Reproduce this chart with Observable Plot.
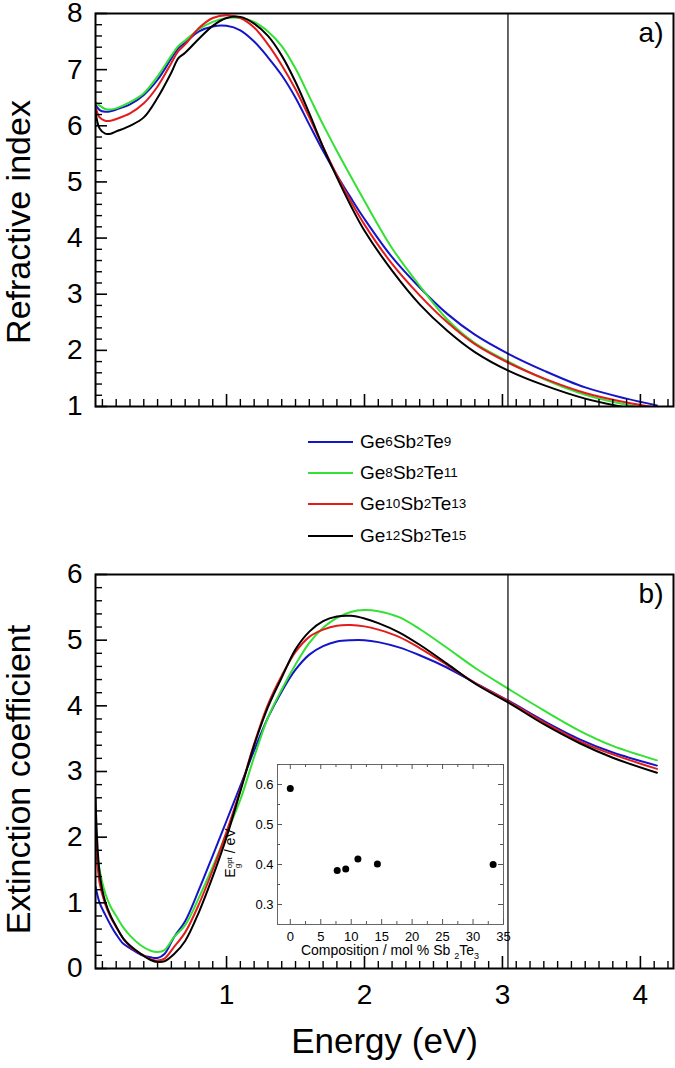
<!DOCTYPE html>
<html><head><meta charset="utf-8">
<script src="https://cdn.jsdelivr.net/npm/d3@7"></script>
<script src="https://cdn.jsdelivr.net/npm/@observablehq/plot@0.6"></script>
<style>
html,body{margin:0;padding:0;background:#fff;}
#wrap{position:relative;width:675px;height:1068px;font-family:"Liberation Sans",Arial,sans-serif;overflow:hidden;background:#fff;}
#wrap svg{overflow:visible;}
.legend{position:absolute;left:308px;top:426px;font-size:19px;color:#000;}
.legend .row{display:flex;align-items:center;height:31.3px;white-space:nowrap;}
.legend .sw{width:45px;height:2px;margin-right:7px;}
.legend sub{font-size:13.5px;vertical-align:-7px;line-height:0;}
.ilab{position:absolute;font-size:14px;color:#000;white-space:nowrap;}
.ilab sub{font-size:9px;vertical-align:-4px;line-height:0;}
</style></head>
<body><div id="wrap"></div>
<script>
// ---------- data ----------
const seriesNames = ["Ge6Sb2Te9", "Ge8Sb2Te11", "Ge10Sb2Te13", "Ge12Sb2Te15"];
const geIndex = [6, 8, 10, 12];
const teIndex = [9, 11, 13, 15];
const seriesColors = ["#1515c8", "#33e033", "#e41b1b", "#000000"];

const energyN = [0.05,0.08,0.12,0.16,0.2,0.3,0.4,0.5,0.6,0.65,0.7,0.8,0.9,1.0,1.1,1.2,1.3,1.4,1.5,1.6,1.7,1.8,1.9,2.0,2.2,2.4,2.6,2.8,3.05,3.3,3.6,3.9,4.12];
const nGe6  = [6.38,6.28,6.25,6.26,6.29,6.38,6.55,6.82,7.20,7.38,7.48,7.68,7.77,7.78,7.70,7.50,7.22,6.90,6.50,6.02,5.55,5.12,4.72,4.34,3.66,3.12,2.65,2.28,1.93,1.64,1.34,1.14,1.02];
const nGe8  = [6.42,6.36,6.30,6.29,6.31,6.42,6.58,6.88,7.25,7.42,7.52,7.72,7.85,7.92,7.92,7.85,7.68,7.42,7.02,6.52,6.02,5.55,5.10,4.66,3.82,3.15,2.55,2.13,1.79,1.49,1.21,1.03,0.93];
const nGe10 = [6.34,6.15,6.09,6.09,6.12,6.22,6.40,6.70,7.12,7.33,7.45,7.74,7.92,7.97,7.92,7.75,7.45,7.08,6.65,6.15,5.62,5.12,4.66,4.24,3.54,2.98,2.50,2.11,1.77,1.50,1.24,1.07,0.98];
const nGe12 = [6.25,5.95,5.86,5.86,5.90,6.00,6.15,6.50,6.95,7.20,7.30,7.55,7.78,7.92,7.94,7.82,7.60,7.25,6.78,6.22,5.62,5.08,4.58,4.13,3.42,2.82,2.35,1.97,1.63,1.38,1.14,0.98,0.89];

const energyK = [0.05,0.08,0.12,0.16,0.2,0.25,0.3,0.38,0.45,0.5,0.55,0.62,0.7,0.8,0.9,1.0,1.1,1.2,1.3,1.4,1.5,1.6,1.7,1.8,1.9,2.0,2.1,2.25,2.4,2.6,2.8,3.05,3.3,3.56,3.8,4.12];
const kGe6  = [1.25,1.00,0.82,0.66,0.52,0.38,0.31,0.21,0.17,0.16,0.22,0.48,0.72,1.20,1.72,2.25,2.78,3.32,3.82,4.22,4.55,4.78,4.91,4.98,5.00,5.00,4.97,4.89,4.77,4.58,4.35,4.07,3.77,3.49,3.29,3.09];
const kGe8  = [1.95,1.50,1.15,0.94,0.80,0.63,0.50,0.35,0.27,0.25,0.28,0.48,0.66,1.08,1.55,2.06,2.57,3.22,3.82,4.25,4.63,4.96,5.19,5.34,5.43,5.46,5.44,5.35,5.17,4.88,4.58,4.25,3.93,3.62,3.39,3.17];
const kGe10 = [2.00,1.30,0.98,0.78,0.63,0.46,0.34,0.22,0.14,0.12,0.15,0.33,0.55,0.98,1.50,2.08,2.72,3.42,4.02,4.46,4.82,5.05,5.16,5.22,5.23,5.21,5.16,5.05,4.88,4.62,4.35,4.06,3.75,3.46,3.26,3.04];
const kGe12 = [2.60,1.45,1.02,0.80,0.64,0.46,0.35,0.22,0.13,0.10,0.11,0.22,0.42,0.86,1.40,2.00,2.70,3.40,3.98,4.43,4.86,5.13,5.29,5.36,5.37,5.33,5.26,5.12,4.93,4.64,4.34,4.04,3.72,3.43,3.21,2.98];

const markerEnergy = [3.04];
const xTicks = [1, 2, 3, 4];
const nTicks = [1, 2, 3, 4, 5, 6, 7, 8];
const kTicks = [0, 1, 2, 3, 4, 5, 6];

const composition = [0, 7.7, 9.1, 11.1, 14.3, 33.3];
const bandGap = [0.59, 0.385, 0.389, 0.414, 0.401, 0.40];
const compTicks = [0, 5, 10, 15, 20, 25, 30, 35];
const gapTicks = [0.3, 0.4, 0.5, 0.6];

// ---------- helpers ----------
const FONT = '"Liberation Sans", Arial, sans-serif';
const tidy = (xs, arrs) => arrs.flatMap((vals, i) => vals.map((v, j) => ({E: xs[j], v, s: seriesNames[i]})));
const nData = tidy(energyN, [nGe6, nGe8, nGe10, nGe12]);
const kData = tidy(energyK, [kGe6, kGe8, kGe10, kGe12]);
const xMinor = d3.range(1, 43).map(i => i / 10).filter(v => !xTicks.includes(Math.round(v * 10) / 10));
const wrap = document.getElementById("wrap");
const place = (el, left, top) => { el.style.position = "absolute"; el.style.left = left + "px"; el.style.top = top + "px"; wrap.appendChild(el); };

const FW = 578; // frame width in px (95..673)
function panel({data, yDomain, yTicks, yMinorStep, height, marginTop, marginBottom, title, titleDy, tag, showX}) {
  const FH = height - marginTop - marginBottom;
  const yMinor = d3.range(Math.round(yDomain[0] / yMinorStep), Math.round(yDomain[1] / yMinorStep) + 1)
    .map(i => +(i * yMinorStep).toFixed(3)).filter(v => !yTicks.includes(v));
  const marks = [
    Plot.line(data, {x: "E", y: "v", stroke: "s", strokeWidth: 2, curve: "catmull-rom", clip: true}),
    Plot.ruleX(markerEnergy, {x: Plot.identity, stroke: "#000", strokeWidth: 1.2}),
    Plot.tickX(xMinor, {x: Plot.identity, insetTop: FH - 7, strokeWidth: 1.4}),
    Plot.tickX(xTicks, {x: Plot.identity, insetTop: FH - 12, strokeWidth: 1.6}),
    Plot.tickY(yMinor, {y: Plot.identity, insetRight: FW - 7, strokeWidth: 1.4}),
    Plot.tickY(yTicks, {y: Plot.identity, insetRight: FW - 12, strokeWidth: 1.6}),
    Plot.axisY(yTicks, {tickSize: 0, tickPadding: 13, fontSize: 28, fontFamily: FONT, tickFormat: d3.format("d")}),
    Plot.frame({stroke: "#000", strokeWidth: 2}),
    Plot.text([title], {text: d => d, frameAnchor: "left", rotate: -90, dx: -66, dy: titleDy, textAnchor: "middle", lineAnchor: "bottom", fontSize: 34, fontFamily: FONT}),
    Plot.text([tag], {text: d => d, frameAnchor: "top-right", dx: -10, dy: 9, textAnchor: "end", lineAnchor: "top", fontSize: 28, fontFamily: FONT})
  ];
  if (showX) {
    marks.push(Plot.axisX(xTicks, {tickSize: 0, tickPadding: 16, fontSize: 28, fontFamily: FONT, tickFormat: d3.format("d")}));
    marks.push(Plot.text(["Energy (eV)"], {text: d => d, frameAnchor: "bottom", dy: 84, textAnchor: "middle", lineAnchor: "bottom", fontSize: 35, fontFamily: FONT}));
  }
  return Plot.plot({
    width: 675, height, marginLeft: 95, marginRight: 2, marginTop, marginBottom,
    x: {domain: [0.05, 4.24], label: null, axis: showX ? undefined : null},
    y: {domain: yDomain, label: null},
    color: {domain: seriesNames, range: seriesColors},
    style: {fontFamily: FONT, background: "white", overflow: "visible", color: "#000"},
    marks
  });
}

const topPlot = panel({data: nData, yDomain: [1, 8], yTicks: nTicks, yMinorStep: 0.2, height: 420, marginTop: 13, marginBottom: 14, title: "Refractive index", titleDy: 12, tag: "a)", showX: false});
place(topPlot, 0, 0);

const bottomPlot = panel({data: kData, yDomain: [0, 6], yTicks: kTicks, yMinorStep: 0.2, height: 508, marginTop: 14, marginBottom: 100, title: "Extinction coefficient", titleDy: 8, tag: "b)", showX: true});
place(bottomPlot, 0, 560);

// ---------- legend ----------
const legend = document.createElement("div");
legend.className = "legend";
legend.innerHTML = seriesNames.map((n, i) =>
  `<div class="row"><span class="sw" style="background:${seriesColors[i]}"></span>Ge<sub>${geIndex[i]}</sub>Sb<sub>2</sub>Te<sub>${teIndex[i]}</sub></div>`).join("");
wrap.appendChild(legend);

// ---------- inset ----------
const IW = 226, IH = 160;
const insetData = composition.map((c, i) => ({c, e: bandGap[i]}));
const compMinor = d3.range(1, 15, 2).map(i => i * 2.5);
const gapMinor = [0.35, 0.45, 0.55, 0.65];
const inset = Plot.plot({
  width: 300, height: 205, marginLeft: 57, marginRight: 17, marginTop: 9, marginBottom: 36,
  x: {domain: [-2.1, 35], label: null},
  y: {domain: [0.25, 0.65], label: null},
  style: {fontFamily: FONT, background: "transparent", overflow: "visible", color: "#000"},
  marks: [
    Plot.frame({stroke: "#666", strokeWidth: 1}),
    Plot.tickX(compTicks, {x: Plot.identity, insetTop: IH - 5, stroke: "#555"}),
    Plot.tickX(compTicks, {x: Plot.identity, insetBottom: IH - 5, stroke: "#555"}),
    Plot.tickX(compMinor, {x: Plot.identity, insetTop: IH - 3, stroke: "#555"}),
    Plot.tickX(compMinor, {x: Plot.identity, insetBottom: IH - 3, stroke: "#555"}),
    Plot.tickY(gapTicks, {y: Plot.identity, insetRight: IW - 5, stroke: "#555"}),
    Plot.tickY(gapTicks, {y: Plot.identity, insetLeft: IW - 5, stroke: "#555"}),
    Plot.tickY(gapMinor, {y: Plot.identity, insetRight: IW - 3, stroke: "#555"}),
    Plot.tickY(gapMinor, {y: Plot.identity, insetLeft: IW - 3, stroke: "#555"}),
    Plot.axisX(compTicks, {tickSize: 0, tickPadding: 7, fontSize: 13, fontFamily: FONT}),
    Plot.axisY(gapTicks, {tickSize: 0, tickPadding: 4, fontSize: 13, fontFamily: FONT, tickFormat: d3.format(".1f")}),
    Plot.dot(insetData, {x: "c", y: "e", r: 3.5, fill: "#000", stroke: "none"})
  ]
});
place(inset, 220, 755);

const xl = document.createElement("div");
xl.className = "ilab";
xl.style.left = "277px"; xl.style.top = "942px"; xl.style.width = "226px"; xl.style.textAlign = "center";
xl.innerHTML = "Composition / mol % Sb <sub>2</sub>Te<sub>3</sub>";
wrap.appendChild(xl);

const yl = document.createElement("div");
yl.className = "ilab";
yl.style.left = "232px"; yl.style.top = "853px";
yl.style.transform = "translate(-50%,-50%) rotate(-90deg)";
yl.innerHTML = 'E<span style="display:inline-block;vertical-align:-5px;line-height:1;font-size:8px;"><span style="display:block">opt</span><span style="display:block">g</span></span> / eV';
wrap.appendChild(yl);
</script></body></html>
